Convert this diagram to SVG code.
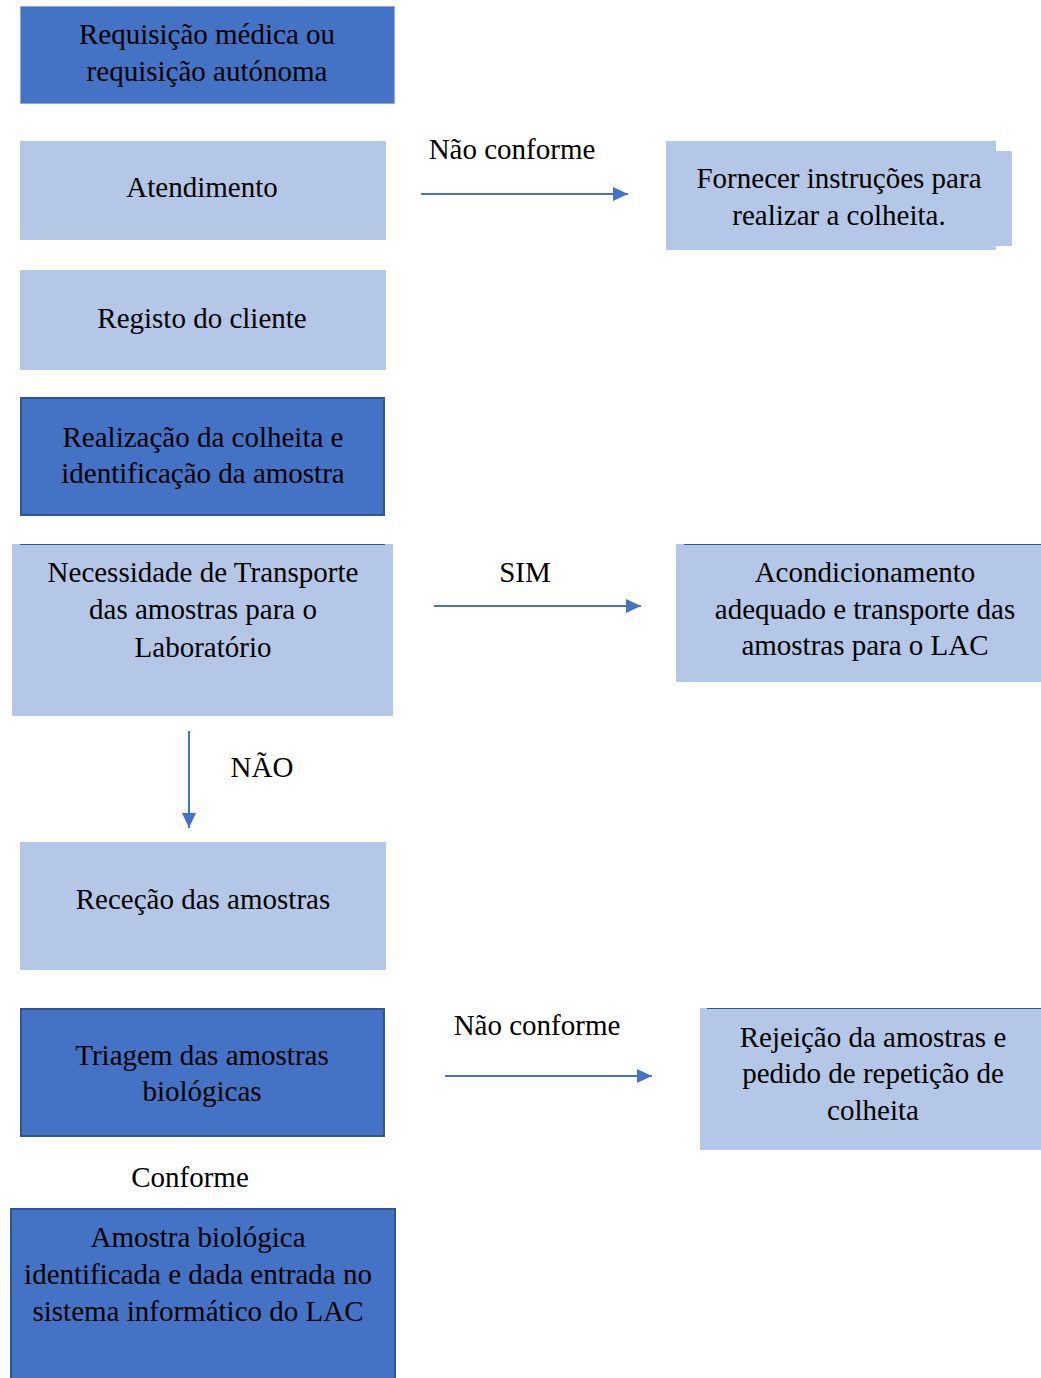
<svg xmlns="http://www.w3.org/2000/svg" width="1041" height="1378" viewBox="0 0 1041 1378">
<style>
text{font-family:"Liberation Serif","Times New Roman",serif;font-size:29px;fill:#000;text-anchor:middle}
.dark{fill:#4472C4;stroke:#2F5597;stroke-width:2}
.darkf{fill:#4472C4;stroke:#8FAADC;stroke-width:1}
.light{fill:#B4C7E7}
.conn line{stroke:#4472C4;stroke-width:2}
</style>
<defs>
<marker id="ah2" viewBox="0 0 10 10" refX="10" refY="5" markerWidth="15" markerHeight="14" markerUnits="userSpaceOnUse" orient="auto" preserveAspectRatio="none">
<path d="M0,0 L10,5 L0,10 Z" fill="#4472C4"/>
</marker>
</defs>
<rect width="1041" height="1378" fill="#fff"/>

<g id="n1"><rect class="darkf" x="20.5" y="6.5" width="374" height="97"/><text x="207" y="44">Requisição médica ou</text><text x="207" y="81">requisição autónoma</text></g>
<g id="n2"><rect class="light" x="20" y="141" width="366" height="99"/><text x="202" y="197">Atendimento</text></g>
<g id="n3"><rect class="light" x="20" y="270" width="366" height="100"/><text x="202" y="328">Registo do cliente</text></g>
<g id="n4"><rect class="dark" x="21" y="398" width="363" height="117"/><text x="203" y="447">Realização da colheita e</text><text x="203" y="483">identificação da amostra</text></g>
<g id="n5"><rect class="light" x="12" y="544" width="381" height="172"/><line x1="20" y1="544.5" x2="385" y2="544.5" stroke="#2F5597" stroke-width="1"/><text x="203" y="582">Necessidade de Transporte</text><text x="203" y="619">das amostras para o</text><text x="203" y="657">Laboratório</text></g>
<g id="n6"><rect class="light" x="20" y="842" width="366" height="128"/><text x="203" y="909">Receção das amostras</text></g>
<g id="n7"><rect class="dark" x="21" y="1009" width="363" height="127"/><text x="202" y="1065">Triagem das amostras</text><text x="202" y="1101">biológicas</text></g>
<g id="n8"><rect class="dark" x="11" y="1209" width="384" height="175"/><text x="198" y="1247">Amostra biológica</text><text x="198" y="1284">identificada e dada entrada no</text><text x="198" y="1321">sistema informático do LAC</text></g>
<g id="n9"><path class="light" d="M666,141 H996 V151 H1012 V246 H996 V250 H666 Z"/><text x="839" y="188">Fornecer instruções para</text><text x="839" y="225">realizar a colheita.</text></g>
<g id="n10"><rect class="light" x="676" y="544" width="365" height="138"/><line x1="684" y1="544.5" x2="1041" y2="544.5" stroke="#2F5597" stroke-width="1"/><text x="865" y="582">Acondicionamento</text><text x="865" y="619">adequado e transporte das</text><text x="865" y="655">amostras para o LAC</text></g>
<g id="n11"><rect class="light" x="700" y="1008" width="341" height="142"/><line x1="707" y1="1008.5" x2="1041" y2="1008.5" stroke="#2F5597" stroke-width="1"/><text x="873" y="1047">Rejeição da amostras e</text><text x="873" y="1083">pedido de repetição de</text><text x="873" y="1120">colheita</text></g>

<g id="connectors" class="conn">
<line x1="421" y1="194" x2="628" y2="194" marker-end="url(#ah2)"/>
<line x1="434" y1="606" x2="641" y2="606" marker-end="url(#ah2)"/>
<line x1="445" y1="1076" x2="652" y2="1076" marker-end="url(#ah2)"/>
<line x1="189" y1="731" x2="189" y2="828" marker-end="url(#ah2)"/>
</g>
<g id="labels">
<text x="512" y="159">Não conforme</text>
<text x="525" y="582">SIM</text>
<text x="262" y="777">NÃO</text>
<text x="537" y="1035">Não conforme</text>
<text x="190" y="1187">Conforme</text>
</g>
</svg>
